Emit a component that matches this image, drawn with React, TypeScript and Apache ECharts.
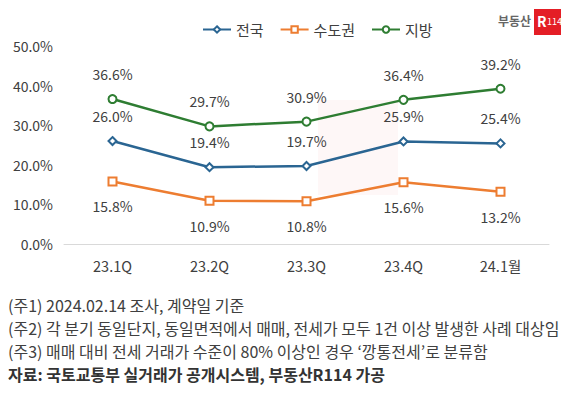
import React, { useEffect, useRef } from "react";
import * as echarts from "echarts";

const categories = ["23.1Q", "23.2Q", "23.3Q", "23.4Q", "24.1월"];
const nationwide = [26.0, 19.4, 19.7, 25.9, 25.4];
const capital = [15.8, 10.9, 10.8, 15.6, 13.2];
const regional = [36.6, 29.7, 30.9, 36.4, 39.2];
const seriesNames = ["전국", "수도권", "지방"];
const notes = [
  "(주1) 2024.02.14 조사, 계약일 기준",
  "(주2) 각 분기 동일단지, 동일면적에서 매매, 전세가 모두 1건 이상 발생한 사례 대상임",
  "(주3) 매매 대비 전세 거래가 수준이 80% 이상인 경우 ‘깡통전세’로 분류함",
];
const source = "자료: 국토교통부 실거래가 공개시스템, 부동산R114 가공";

const FONT = "'Noto Sans CJK KR', 'Noto Sans', sans-serif";
const TXT = "#404040";

export default function App() {
  const ref = useRef<HTMLDivElement>(null);
  useEffect(() => {
    const chart = echarts.init(ref.current!, null, { renderer: "svg" });
    const mk = (name: string, data: number[], color: string, symbol: string, pos: string) => ({
      name,
      type: "line",
      data,
      symbol,
      symbolSize: 8,
      itemStyle: { color, borderColor: color, borderWidth: 1 },
      lineStyle: { color, width: 2.5 },
      label: {
        show: true,
        position: pos,
        distance: 13,
        formatter: (p: any) => p.value.toFixed(1) + "%",
        color: TXT,
        fontSize: 14,
        fontFamily: FONT,
      },
    });
    chart.setOption({
      animation: false,
      textStyle: { fontFamily: FONT },
      legend: {
        top: 17,
        left: 197,
        itemWidth: 28,
        itemHeight: 8,
        itemGap: 16,
        textStyle: { color: TXT, fontSize: 15, fontFamily: FONT },
        data: seriesNames,
      },
      grid: { left: 64, right: 24, top: 46, bottom: 152 },
      xAxis: {
        type: "category",
        data: categories,
        axisLine: { lineStyle: { color: "#d9d9d9", width: 1 } },
        axisTick: { show: false },
        axisLabel: { color: TXT, fontSize: 14.5, margin: 14, fontFamily: FONT },
      },
      yAxis: {
        type: "value",
        min: 0,
        max: 50,
        interval: 10,
        splitLine: { show: false },
        axisLine: { show: false },
        axisTick: { show: false },
        axisLabel: {
          color: TXT,
          fontSize: 14,
          margin: 11,
          fontFamily: FONT,
          formatter: (v: number) => v.toFixed(1) + "%",
        },
      },
      series: [
        mk(seriesNames[0], nationwide, "#2A6592", "emptyDiamond", "top"),
        mk(seriesNames[1], capital, "#ED7D31", "emptyRect", "bottom"),
        mk(seriesNames[2], regional, "#2E7D32", "emptyCircle", "top"),
      ],
      graphic: [
        // faint watermark block
        { type: "rect", silent: true, z: -10, shape: { x: 318, y: 100, width: 80, height: 95 }, style: { fill: "rgba(230,30,40,0.035)" } },
        // logo
        { type: "text", left: 498, top: 14, style: { text: "부동산", fill: "#666", font: `bold 12px ${FONT}` } },
        { type: "rect", shape: { x: 534, y: 9, width: 27, height: 26 }, style: { fill: "#E41E26" } },
        { type: "text", x: 537, y: 14, style: { text: "R", fill: "#fff", font: `bold 14px ${FONT}` } },
        { type: "text", x: 547, y: 17, style: { text: "114", fill: "#fff", font: `9px ${FONT}` } },
        ...notes.map((t, i) => ({
          type: "text",
          left: 8,
          top: 297 + i * 23,
          style: { text: t, fill: TXT, font: `16px ${FONT}` },
        })),
        { type: "text", left: 8, top: 366, style: { text: source, fill: "#333", font: `bold 16px ${FONT}` } },
      ],
    });
    return () => chart.dispose();
  }, []);
  return <div ref={ref} style={{ position: "fixed", left: 0, top: 0, width: 573, height: 396, background: "#fff" }} />;
}
